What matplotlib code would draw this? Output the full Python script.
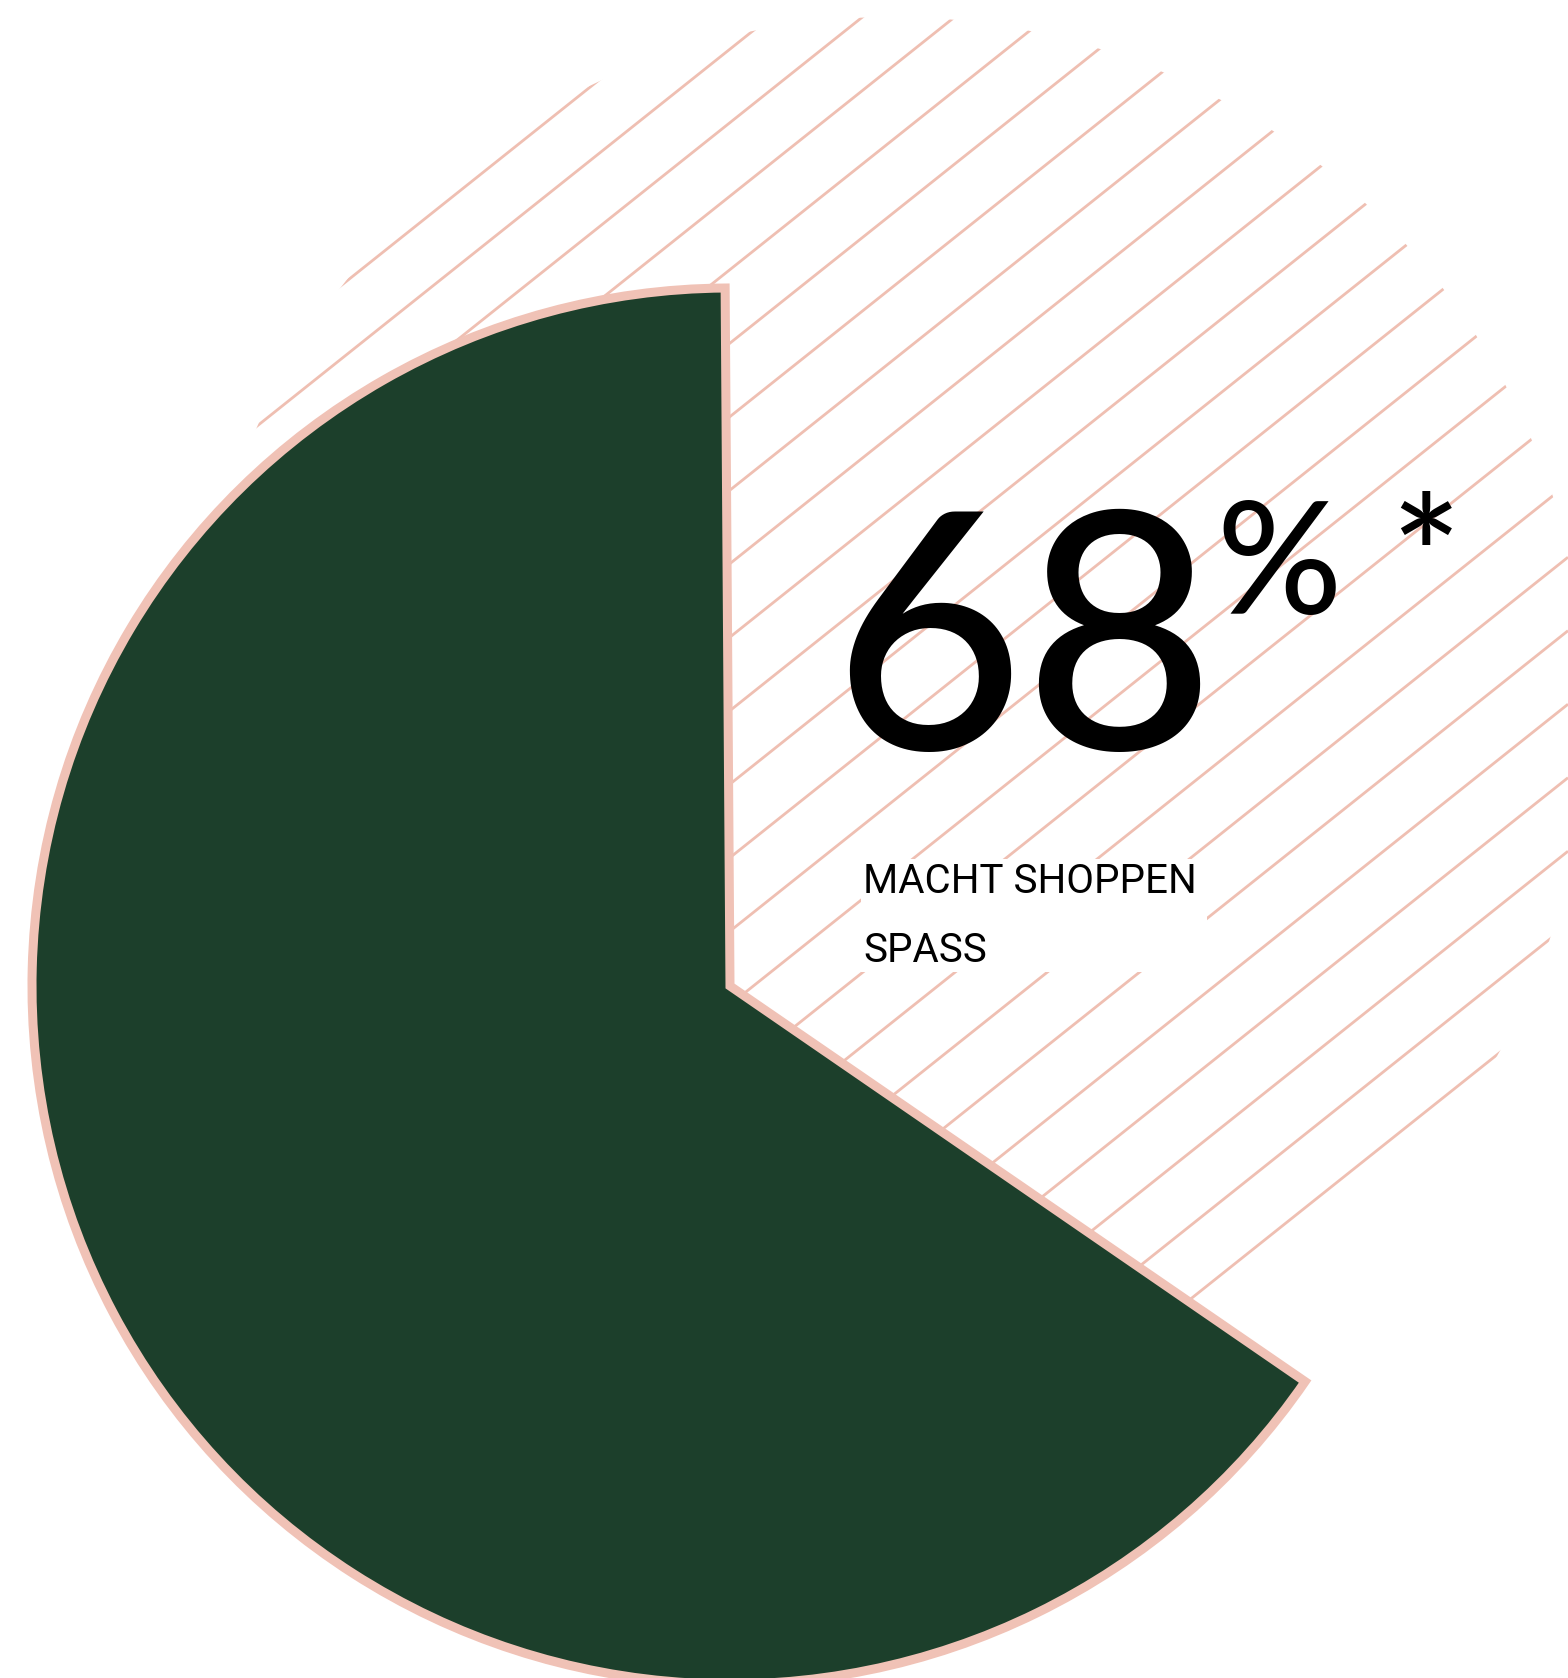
import matplotlib.pyplot as plt
from matplotlib.patches import Circle, Rectangle
import numpy as np

# values
headline = "68"
unit = "%"
footnote = "*"
caption = ["MACHT SHOPPEN", "SPASS"]
slice_share = [0.653]   # green slice as drawn (share of a full turn)

green = "#1c3f2b"
pink = "#f0c2b6"

W, H = 1568, 1678
plt.rcParams['font.family'] = ['Roboto', 'DejaVu Sans']

fig = plt.figure(figsize=(W / 100, H / 100), dpi=100)
ax = fig.add_axes([0, 0, 1, 1])

# hatched disc in the background
disc = Circle((891.5, H - 713), 696, facecolor='none', edgecolor='none')
ax.add_patch(disc)
xs = np.array([0, W])
slope, gap, b0 = 0.797, 73.5, 630.9
for k in range(-15, 30):
    c = H - (b0 + gap * k)
    line, = ax.plot(xs, slope * xs + c, color="#efbfb2", lw=2.0, solid_capstyle='butt', zorder=2)
    line.set_clip_path(disc)

# the pie slice
wedges, _ = ax.pie(slice_share, normalize=False, startangle=90.4, counterclock=True,
                   colors=[green], center=(730, H - 986), radius=698, frame=True,
                   wedgeprops=dict(edgecolor=pink, linewidth=6.5, joinstyle='miter'))
for w in wedges:
    w.set_zorder(3)

# white box behind the caption
ax.add_patch(Rectangle((861, H - 972), 346, 113, facecolor='white', edgecolor='none', zorder=4))

num_font = ['Lato', 'DejaVu Sans']
ax.text(832, H - 749, headline, fontsize=238, family=num_font, fontweight='medium',
        color='black', ha='left', va='baseline', zorder=5)
ax.text(1216, H - 614, unit, fontsize=112, family=num_font, fontweight='medium',
        color='black', ha='left', va='baseline', zorder=5)
ax.text(1390, H - 616, footnote, fontsize=120, family=num_font, fontweight='medium',
        color='black', ha='left', va='baseline', zorder=5)
ax.text(863, H - 893, caption[0], fontsize=29, color='black', ha='left', va='baseline', zorder=5)
ax.text(863, H - 962, caption[1], fontsize=29, color='black', ha='left', va='baseline', zorder=5)

ax.set_xlim(0, W)
ax.set_ylim(0, H)
ax.set_aspect('equal')
ax.axis('off')

fig.savefig('out.png', dpi=100, facecolor='white')
